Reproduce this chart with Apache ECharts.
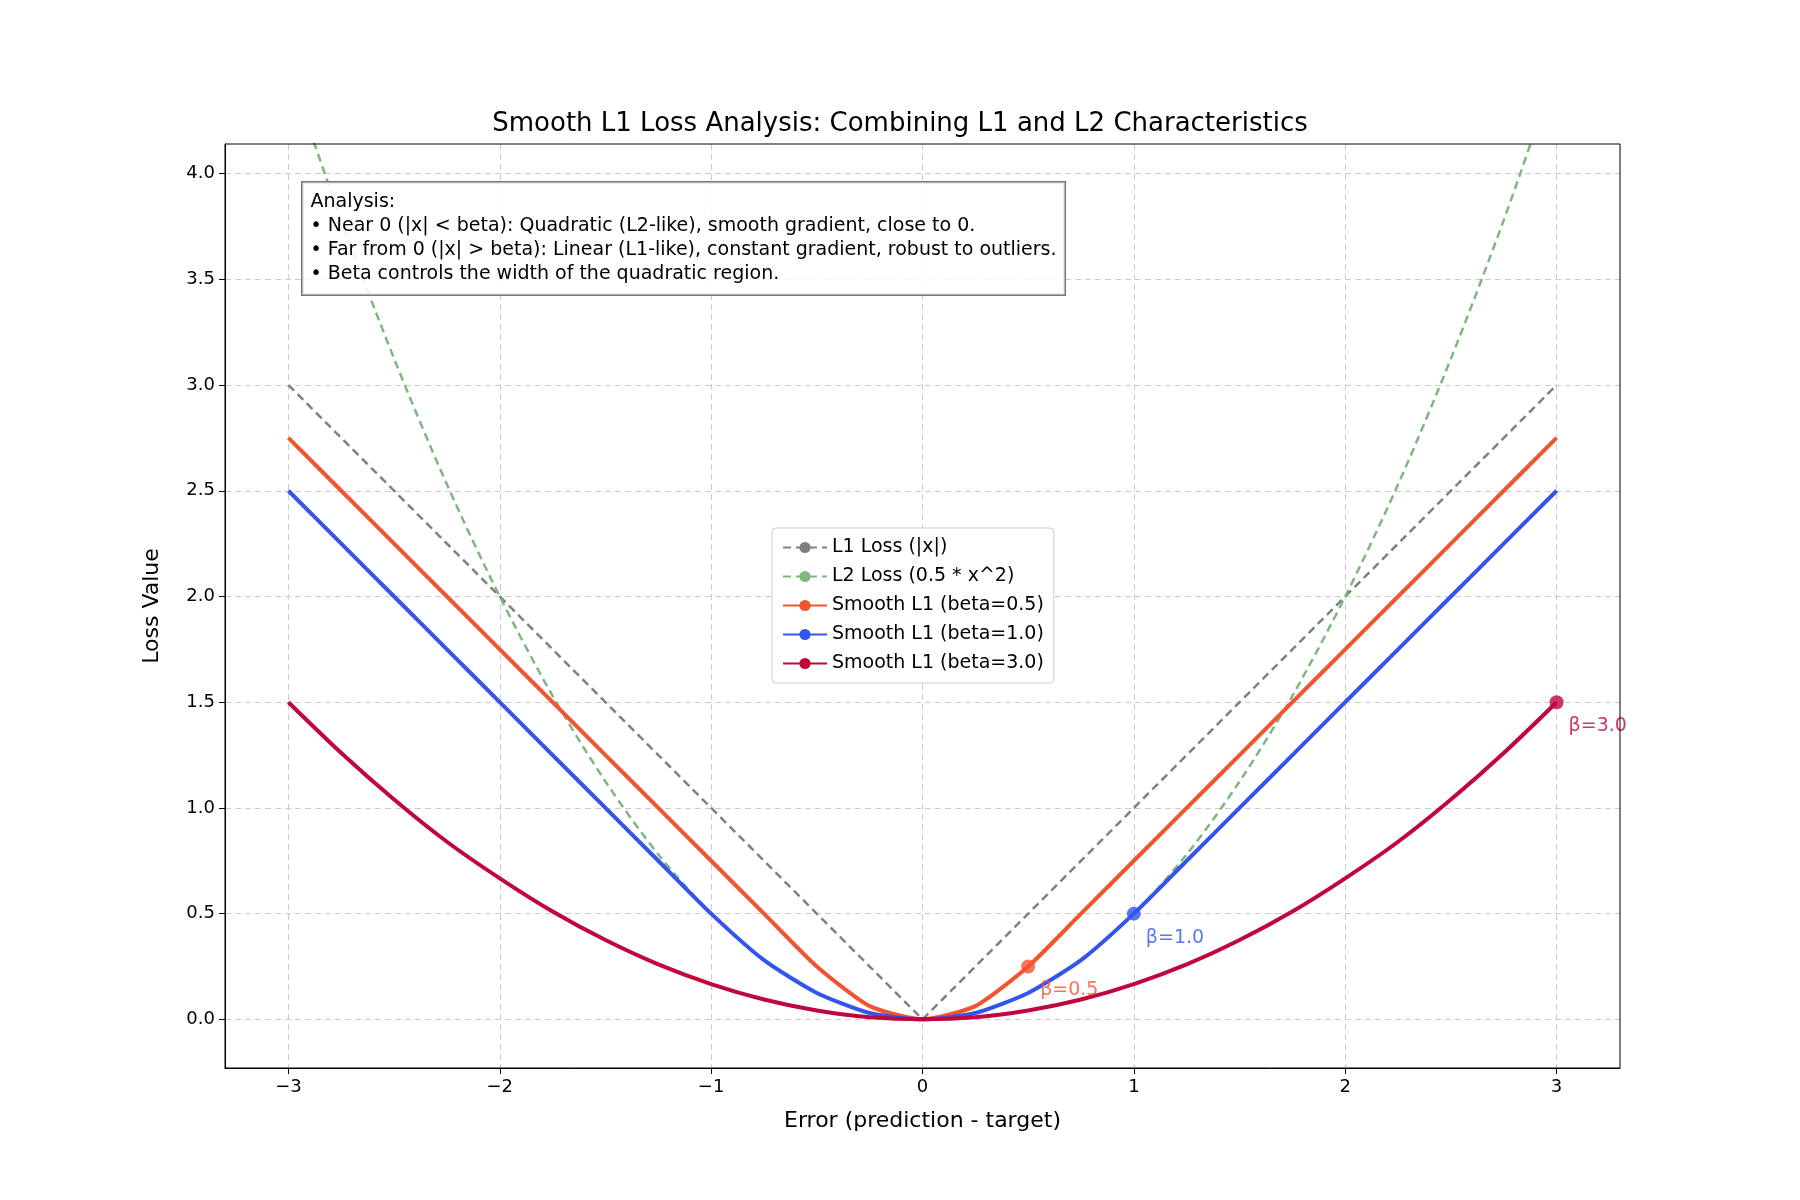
<!DOCTYPE html>
<html>
<head>
<meta charset="UTF-8">
<title>Smooth L1 Loss</title>
<script src="https://cdn.jsdelivr.net/npm/echarts@6/dist/echarts.min.js"></script>
</head>
<body style="margin:0">
<div id="main" style="width:1800px;height:1200px;"></div>
<script>
// values
var xs = [-3, -2.75, -2.5, -2.25, -2, -1.75, -1.5, -1.25, -1, -0.75, -0.5, -0.25, 0,
          0.25, 0.5, 0.75, 1, 1.25, 1.5, 1.75, 2, 2.25, 2.5, 2.75, 3];
var l1X = [-3, 0, 3];
var l1Y = [3, 0, 3];
var l2Y = [4.5, 3.78, 3.125, 2.53, 2, 1.53, 1.125, 0.78, 0.5, 0.28, 0.125, 0.03, 0,
           0.03, 0.125, 0.28, 0.5, 0.78, 1.125, 1.53, 2, 2.53, 3.125, 3.78, 4.5];
var b05Y = [2.75, 2.5, 2.25, 2, 1.75, 1.5, 1.25, 1, 0.75, 0.5, 0.25, 0.0625, 0,
            0.0625, 0.25, 0.5, 0.75, 1, 1.25, 1.5, 1.75, 2, 2.25, 2.5, 2.75];
var b10Y = [2.5, 2.25, 2, 1.75, 1.5, 1.25, 1, 0.75, 0.5, 0.28, 0.125, 0.03, 0,
            0.03, 0.125, 0.28, 0.5, 0.75, 1, 1.25, 1.5, 1.75, 2, 2.25, 2.5];
var b30Y = [1.5, 1.26, 1.04, 0.84, 0.667, 0.51, 0.375, 0.26, 0.167, 0.094, 0.042, 0.01, 0,
            0.01, 0.042, 0.094, 0.167, 0.26, 0.375, 0.51, 0.667, 0.84, 1.04, 1.26, 1.5];
var markers = [[0.5, 0.25, 'β=0.5'], [1.0, 0.5, 'β=1.0'], [3.0, 1.5, 'β=3.0']];
var xTicks = [-3, -2, -1, 0, 1, 2, 3];
var yTicks = [0, 0.5, 1, 1.5, 2, 2.5, 3, 3.5, 4];

var colors = ['#808080', '#7fb77f', '#f4532f', '#3355ee', '#c0063c'];
function pairs(x, y) { return x.map(function (v, i) { return [v, y[i]]; }); }
function fmtX(v) { return v < 0 ? '\u2212' + (-v) : String(v); }

var myChart = echarts.init(document.getElementById('main'));
var font = 'DejaVu Sans';
var option = {
  backgroundColor: '#fff',
  textStyle: { fontFamily: font },
  animation: false,
  title: { text: 'Smooth L1 Loss Analysis: Combining L1 and L2 Characteristics',
    left: 'center', top: 106, textStyle: { fontSize: 26, fontWeight: 'normal', color: '#000', fontFamily: font } },
  grid: { left: 225, right: 180, top: 144, bottom: 132 },
  legend: {
    orient: 'vertical', left: 772, top: 528, itemGap: 10, itemWidth: 44, itemHeight: 14,
    backgroundColor: '#fff', borderColor: '#ccc', borderWidth: 1, borderRadius: 4, padding: [10, 10],
    textStyle: { fontSize: 19, color: '#000', fontFamily: font },
    data: ['L1 Loss (|x|)', 'L2 Loss (0.5 * x^2)', 'Smooth L1 (beta=0.5)', 'Smooth L1 (beta=1.0)', 'Smooth L1 (beta=3.0)']
  },
  xAxis: {
    type: 'value', min: -3.3, max: 3.3,
    name: 'Error (prediction - target)', nameLocation: 'middle', nameGap: 42,
    nameTextStyle: { fontSize: 22, color: '#000', fontFamily: font },
    axisLine: { onZero: false, lineStyle: { color: '#000' } },
    axisTick: { customValues: xTicks, length: 6, lineStyle: { color: '#000' } },
    axisLabel: { customValues: xTicks, fontSize: 18, color: '#000', margin: 10, formatter: fmtX },
    splitLine: { show: true, lineStyle: { color: '#cccccc', type: [6, 4] } }
  },
  yAxis: {
    type: 'value', min: -0.23, max: 4.14,
    name: 'Loss Value', nameLocation: 'middle', nameGap: 62,
    nameTextStyle: { fontSize: 22, color: '#000', fontFamily: font },
    axisLine: { show: true, onZero: false, lineStyle: { color: '#000' } },
    axisTick: { show: true, customValues: yTicks, length: 6, lineStyle: { color: '#000' } },
    axisLabel: { customValues: yTicks, fontSize: 18, color: '#000', margin: 10, formatter: function (v) { return v.toFixed(1); } },
    splitLine: { show: true, lineStyle: { color: '#cccccc', type: [6, 4] } }
  },
  graphic: [
    { type: 'rect', shape: { x: 225, y: 144, width: 1395, height: 924 }, style: { fill: 'none', stroke: '#000', lineWidth: 1 }, z: 100, silent: true },
    { type: 'text', left: 301, top: 181, z: 100,
      style: { text: 'Analysis:\n• Near 0 (|x| < beta): Quadratic (L2-like), smooth gradient, close to 0.\n• Far from 0 (|x| > beta): Linear (L1-like), constant gradient, robust to outliers.\n• Beta controls the width of the quadratic region.',
        font: '19px DejaVu Sans', fill: '#000', lineHeight: 24, backgroundColor: 'rgba(255,255,255,0.85)',
        borderColor: '#777', borderWidth: 1.5, padding: [8, 8, 8, 8] } }
  ],
  series: [
    { name: 'L1 Loss (|x|)', type: 'line', data: pairs(l1X, l1Y), symbol: 'none', color: colors[0],
      lineStyle: { width: 2.5, type: [8, 5], color: colors[0] } },
    { name: 'L2 Loss (0.5 * x^2)', type: 'line', data: pairs(xs, l2Y), symbol: 'none', smooth: 0.3, clip: true, color: colors[1],
      lineStyle: { width: 2.5, type: [8, 5], color: colors[1] } },
    { name: 'Smooth L1 (beta=0.5)', type: 'line', data: pairs(xs, b05Y), symbol: 'none', smooth: 0.2, color: colors[2],
      lineStyle: { width: 4, color: colors[2] } },
    { name: 'Smooth L1 (beta=1.0)', type: 'line', data: pairs(xs, b10Y), symbol: 'none', smooth: 0.2, color: colors[3],
      lineStyle: { width: 4, color: colors[3] } },
    { name: 'Smooth L1 (beta=3.0)', type: 'line', data: pairs(xs, b30Y), symbol: 'none', smooth: 0.3, color: colors[4],
      lineStyle: { width: 4, color: colors[4] } },
    { type: 'scatter', symbolSize: 14, z: 10,
      data: markers.map(function (m, i) {
        return { value: [m[0], m[1]], itemStyle: { color: colors[i + 2] },
          label: { show: true, formatter: m[2], position: 'right', offset: [0, 24], fontSize: 19, color: colors[i + 2], fontFamily: font } };
      }) }
  ]
};
myChart.setOption(option);
</script>
</body>
</html>
